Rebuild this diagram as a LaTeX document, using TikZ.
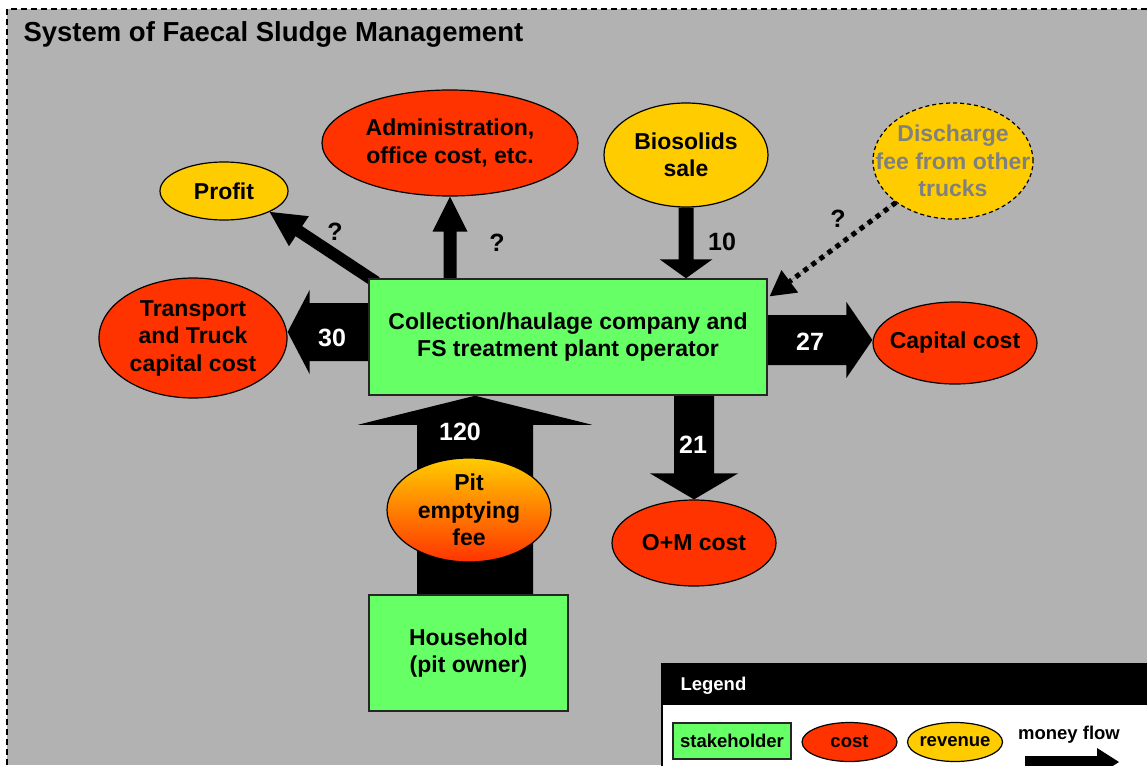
\documentclass[tikz,border=0pt]{standalone}
\usepackage{fontspec}
\setmainfont{Liberation Sans}
\usetikzlibrary{shapes.geometric,calc}

\definecolor{panel}{HTML}{B2B2B2}
\definecolor{stake}{HTML}{66FF66}
\definecolor{costc}{HTML}{FF3300}
\definecolor{revc}{HTML}{FFCC00}
\definecolor{fadetext}{HTML}{808080}

\pgfdeclarelayer{back}
\pgfdeclarelayer{flow}
\pgfsetlayers{back,flow,main}

\newcommand\lblfont{\fontsize{23}{27.5}\selectfont\bfseries}
\newcommand\numfont{\fontsize{25}{30}\selectfont\bfseries}
\newcommand\legfont{\fontsize{18.5}{22}\selectfont\bfseries}

% block arrow: [style]{start}{tip}{half shaft width}{half head width}{head length}
\newcommand\flowarrow[6][]{%
  \path (#2) coordinate (fas) (#3) coordinate (fae);
  \coordinate (fab) at ($(fae)!#6!(fas)$);
  \fill[#1] ($(fas)!#4!90:(fae)$) -- ($(fab)!#4!90:(fae)$) -- ($(fab)!#5!90:(fae)$)
    -- (fae) -- ($(fab)!#5!-90:(fae)$) -- ($(fab)!#4!-90:(fae)$) -- ($(fas)!#4!-90:(fae)$) -- cycle;
}

\begin{document}
\begin{tikzpicture}[x=1pt,y=-1pt,
  lbl/.style={font=\lblfont,align=center,text=black},
  stakebox/.style={rectangle,draw=black!85,line width=1.5pt,fill=stake,inner sep=0pt,lbl},
  % ellipse size is fixed by minimum width/height, not by the text
  ellbase/.style={ellipse,draw=black,line width=1.2pt,inner xsep=-40pt,inner ysep=-30pt,lbl},
  costell/.style={ellbase,fill=costc},
  revell/.style={ellbase,fill=revc},
  flowlbl/.style={font=\numfont,text=white},
  qlbl/.style={font=\numfont,text=black}]

\useasboundingbox (0,0) rectangle (1147,765);

% panel with dashed frame
\begin{pgfonlayer}{back}
  \fill[white] (0,0) rectangle (1147,765);
  \fill[panel] (7,9) rectangle (1147,765);
  \draw[line width=2pt,dash pattern=on 6pt off 4pt] (7,765) -- (7,9) -- (1147,9);
\end{pgfonlayer}

\node[anchor=base west,font=\fontsize{27.5}{31}\selectfont\bfseries] (title) at (20,42)
  {System of Faecal Sludge Management};

% stakeholders
\node[stakebox,minimum width=398pt,minimum height=116pt] (op) at (568,337)
  {Collection/haulage company and\\FS treatment plant operator};
\node[stakebox,minimum width=199pt,minimum height=116pt] (hh) at (468.5,653)
  {Household\\(pit owner)};

% costs and revenues
\node[costell,minimum width=256pt,minimum height=106pt] (adm) at (450,143)
  {Administration,\\office cost, etc.};
\node[revell,minimum width=128pt,minimum height=58pt] (profit) at (224,191) {Profit};
\node[revell,minimum width=164pt,minimum height=104pt] (bio) at (686,155) {Biosolids\\sale};
\node[revell,dashed,dash pattern=on 4pt off 3pt,minimum width=160pt,minimum height=116pt,
  text=fadetext] (disch) at (953,161) {Discharge\\fee from other\\trucks};
\node[costell,minimum width=188pt,minimum height=120pt] (trans) at (193,338)
  {Transport\\and Truck\\capital cost};
\node[costell,minimum width=164pt,minimum height=82pt] (cap) at (955,343) {Capital cost};
\node[costell,minimum width=164pt,minimum height=86pt] (om) at (694,543) {O+M cost};
\node[ellbase,top color=revc,bottom color=costc,
  minimum width=164pt,minimum height=104pt] (pit) at (469,510) {Pit\\emptying\\fee};

% money flows
\coordinate (a30s) at ($(op.west)+(0,-5)$);
\coordinate (a30e) at ($(trans.east)+(0,-6)$);
\coordinate (a27s) at ($(op.east)+(0,3)$);
\coordinate (a27e) at ($(cap.west)+(0,-3)$);
\coordinate (a120s) at ($(hh.north)+(6.5,0)$);
\coordinate (aprs) at ($(op.north west)+(8,4)$);
\coordinate (adte) at ($(op.north east)+(2,18)$);
\begin{pgfonlayer}{flow}
  \flowarrow[black]{a120s}{a120s |- op.south}{58pt}{117pt}{29pt}
  \flowarrow[black]{a30s}{a30e}{29pt}{42pt}{22pt}
  \flowarrow[black]{a27s}{a27e}{25pt}{38pt}{26pt}
  \flowarrow[black]{om.north |- op.south}{om.north}{20pt}{44pt}{26pt}
  \flowarrow[black]{bio.south}{bio.south |- op.north}{7.5pt}{26.5pt}{19pt}
  \flowarrow[black]{adm.south |- op.north}{adm.south}{6.5pt}{17.5pt}{35pt}
  \flowarrow[black]{aprs}{profit.south east}{6pt}{18pt}{35pt}
  \flowarrow[black]{disch.south west}{adte}{0pt}{14pt}{25pt}
  \draw[line width=5pt,dash pattern=on 5pt off 5pt] (disch.south west) -- (fab);
\end{pgfonlayer}

\node[flowlbl] (n120) at (460,432) {120};
\node[flowlbl] (n30) at (332,338) {30};
\node[flowlbl] (n27) at (810,342) {27};
\node[flowlbl] (n21) at (693,445) {21};
\node[qlbl] (n10) at (722,242) {10};
\node[qlbl] (qpr) at (335,232) {?};
\node[qlbl] (qad) at (497,243) {?};
\node[qlbl] (qdc) at (838,219) {?};

% legend
\filldraw[fill=white,draw=black,line width=1.5pt] (662,664) rectangle (1152,770);
\fill[black] (662,664) rectangle (1152,705);
\node[anchor=west,font=\legfont,text=white] (leg) at (677,686) {Legend};
\node[rectangle,draw=black!85,line width=1.2pt,fill=stake,font=\legfont,inner sep=0pt,
  minimum width=118pt,minimum height=36pt] (lstake) at (732,741) {stakeholder};
\node[ellipse,draw=black,line width=1.2pt,fill=costc,font=\legfont,inner sep=0pt,
  minimum width=95pt,minimum height=39pt] (lcost) at (849.5,742) {cost};
\node[ellipse,draw=black,line width=1.2pt,fill=revc,font=\legfont,inner xsep=-20pt,inner ysep=0pt,
  minimum width=95pt,minimum height=39pt] (lrev) at (955,742) {revenue};
\node[font=\legfont] (lflow) at (1069,735) {money flow};
\coordinate (lfs) at (1025,762);
\coordinate (lfe) at (1119,762);
\flowarrow[black]{lfs}{lfe}{6pt}{14pt}{22pt}

\end{tikzpicture}
\end{document}
